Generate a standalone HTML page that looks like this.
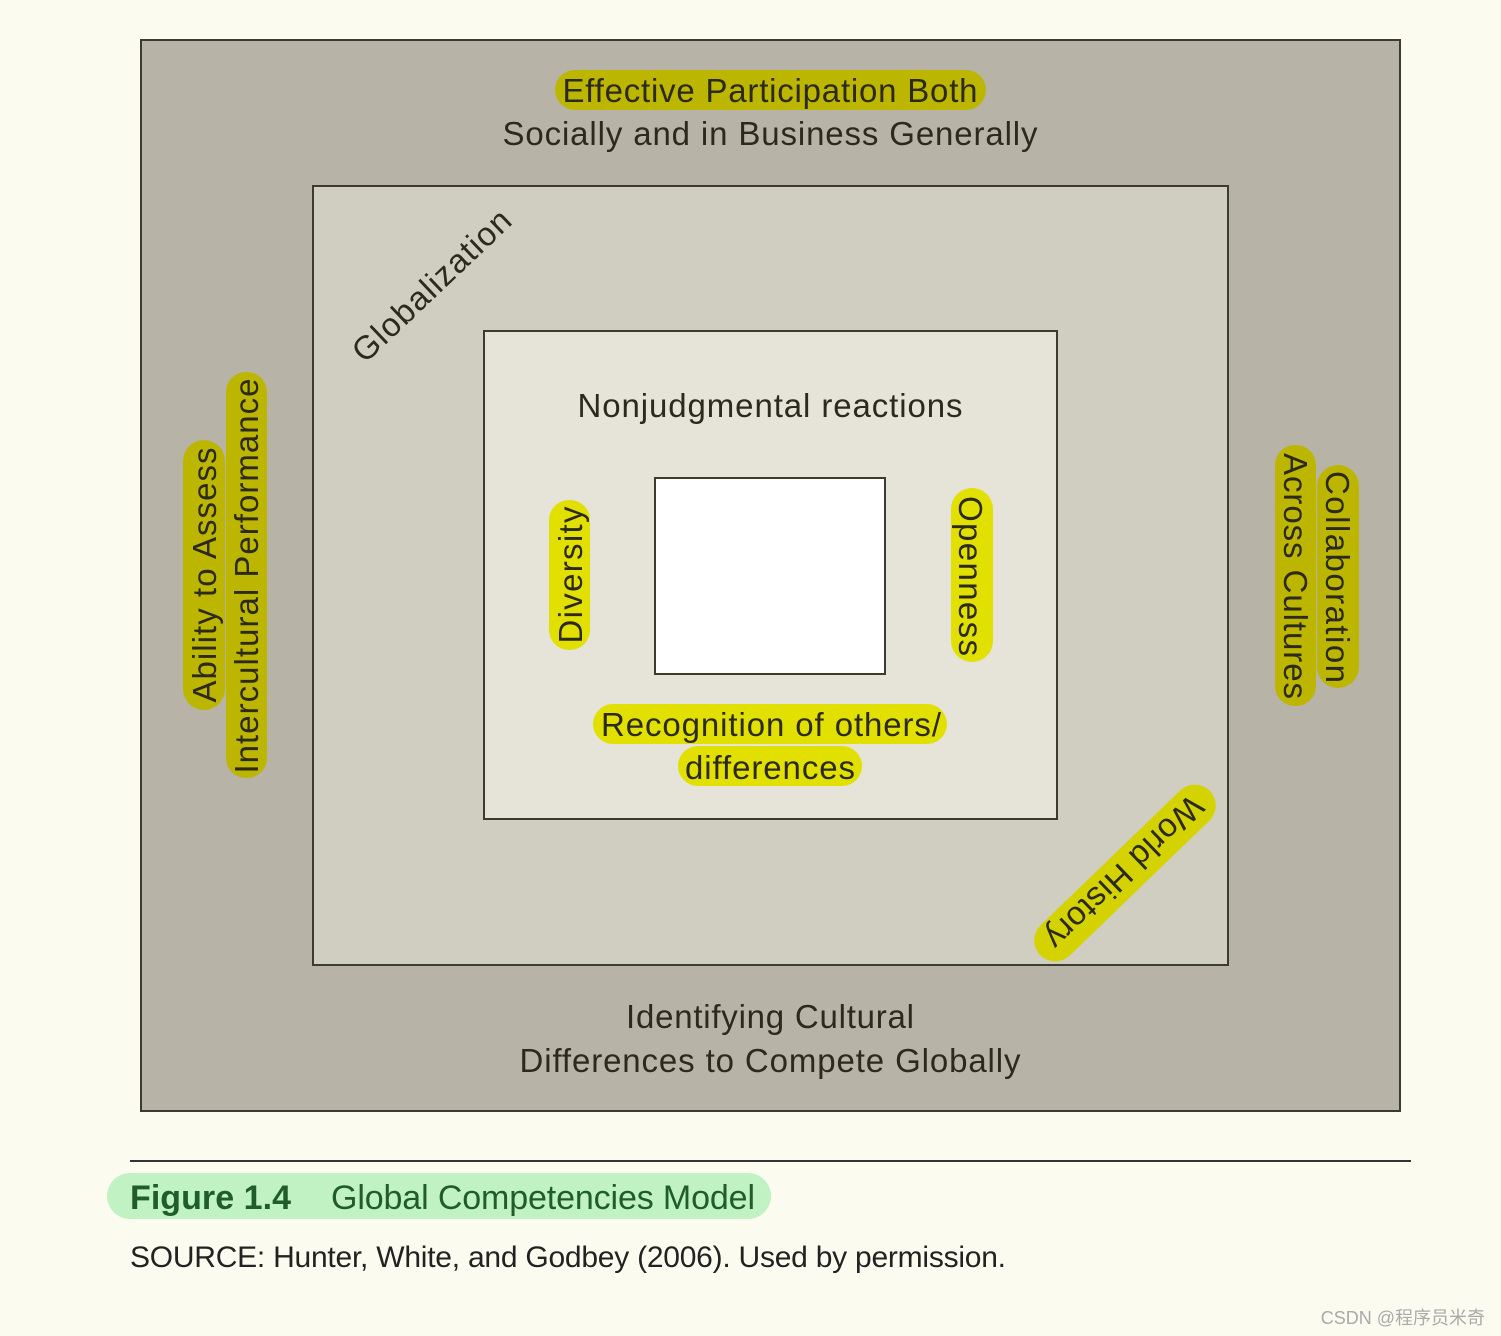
<!DOCTYPE html>
<html><head><meta charset="utf-8"><style>
html,body{margin:0;padding:0;background:#fcfbf0;}
svg{display:block;}
text{font-family:"Liberation Sans",sans-serif;fill:#2b2a1c;}
</style></head><body>
<svg width="1501" height="1336" viewBox="0 0 1501 1336" xmlns="http://www.w3.org/2000/svg">
<rect x="0" y="0" width="1501" height="1336" fill="#fcfbf0"/>
<rect x="141" y="40" width="1259" height="1071" fill="#b7b3a7" stroke="#3c3b30" stroke-width="2"/>
<rect x="313" y="186" width="915" height="779" fill="#d0cec1" stroke="#3c3b30" stroke-width="2"/>
<rect x="484" y="331" width="573" height="488" fill="#e6e4d8" stroke="#3c3b30" stroke-width="2"/>
<rect x="655" y="478" width="230" height="196" fill="#ffffff" stroke="#3c3b30" stroke-width="2"/>

<!-- top -->
<rect x="555" y="70" width="431" height="40" rx="20" fill="#bdb600"/>
<text x="770" y="102" font-size="33" text-anchor="middle" textLength="415">Effective Participation Both</text>
<text x="770" y="145" font-size="33" text-anchor="middle" textLength="535">Socially and in Business Generally</text>

<!-- bottom -->
<text x="770" y="1028" font-size="33" text-anchor="middle" textLength="288">Identifying Cultural</text>
<text x="770" y="1072" font-size="33" text-anchor="middle" textLength="501">Differences to Compete Globally</text>

<!-- left -->
<rect x="183" y="440" width="42" height="270" rx="21" fill="#bdb600"/>
<rect x="226" y="372" width="41" height="406" rx="20" fill="#bdb600"/>
<g transform="translate(204,575) rotate(-90)"><text x="0" y="12" font-size="33" text-anchor="middle" textLength="255">Ability to Assess</text></g>
<g transform="translate(246,576) rotate(-90)"><text x="0" y="12" font-size="33" text-anchor="middle" textLength="395">Intercultural Performance</text></g>

<!-- right -->
<rect x="1317" y="465" width="42" height="223" rx="21" fill="#bdb600"/>
<rect x="1275" y="445" width="41" height="261" rx="20" fill="#bdb600"/>
<g transform="translate(1338,577) rotate(90)"><text x="0" y="12" font-size="33" text-anchor="middle" textLength="212">Collaboration</text></g>
<g transform="translate(1296,576) rotate(90)"><text x="0" y="12" font-size="33" text-anchor="middle" textLength="246">Across Cultures</text></g>

<!-- globalization -->
<g transform="translate(431,285) rotate(-43.5)"><text x="0" y="12" font-size="33" text-anchor="middle" textLength="205">Globalization</text></g>

<!-- world history -->
<g transform="translate(1125,873) rotate(136)">
<rect x="-118" y="-21" width="236" height="42" rx="21" fill="#d4d200"/>
<text x="0" y="12" font-size="33" text-anchor="middle" textLength="205">World History</text></g>

<!-- inner -->
<text x="770" y="417" font-size="33" text-anchor="middle" textLength="385">Nonjudgmental reactions</text>
<rect x="549" y="500" width="41" height="150" rx="20" fill="#e2e000"/>
<g transform="translate(570,575) rotate(-90)"><text x="0" y="12" font-size="33" text-anchor="middle" textLength="137">Diversity</text></g>
<rect x="951" y="488" width="42" height="174" rx="21" fill="#e2e000"/>
<g transform="translate(971,576) rotate(90)"><text x="0" y="12" font-size="33" text-anchor="middle" textLength="160">Openness</text></g>
<rect x="593" y="704" width="354" height="40" rx="20" fill="#e2e000"/>
<rect x="678" y="746" width="184" height="40" rx="20" fill="#e2e000"/>
<text x="771" y="736" font-size="33" text-anchor="middle" textLength="340">Recognition of others/</text>
<text x="770" y="779" font-size="33" text-anchor="middle" textLength="170">differences</text>

<!-- caption -->
<line x1="130" y1="1161" x2="1411" y2="1161" stroke="#333" stroke-width="2"/>
<rect x="107" y="1173" width="664" height="46" rx="23" fill="#c0f2c4"/>
<text x="130" y="1209" font-size="34" font-weight="bold" style="fill:#1f5e2a" textLength="161">Figure 1.4</text>
<text x="331" y="1209" font-size="34" style="fill:#1f5e2a" textLength="424">Global Competencies Model</text>
<text x="130" y="1267" font-size="30" style="fill:#222" textLength="876">SOURCE: Hunter, White, and Godbey (2006). Used by permission.</text>
<text x="1485" y="1324" font-size="18" text-anchor="end" style="fill:#aaa;font-family:'Liberation Sans','Noto Sans CJK SC',sans-serif">CSDN @程序员米奇</text>
</svg>
</body></html>
